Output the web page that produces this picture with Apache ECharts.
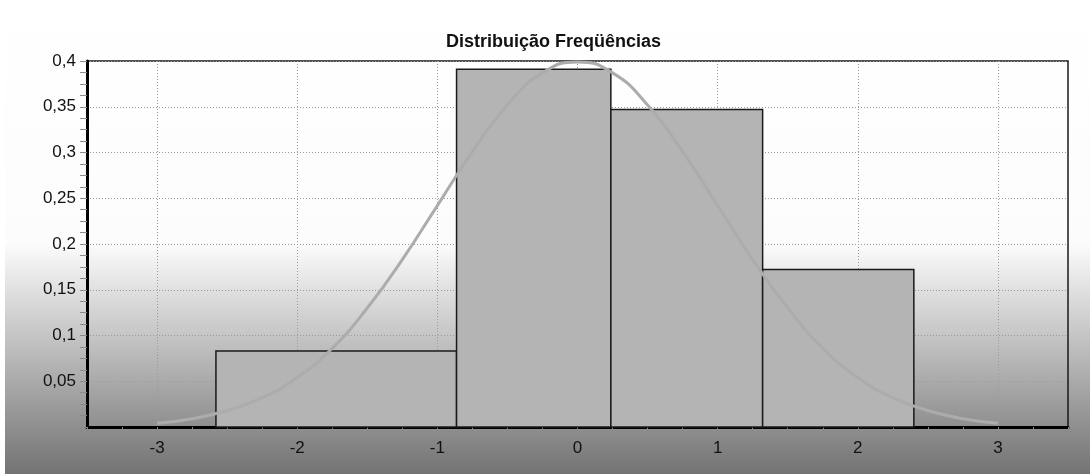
<!DOCTYPE html>
<html>
<head>
<meta charset="utf-8">
<script src="https://cdn.jsdelivr.net/npm/echarts@6/dist/echarts.min.js"></script>
<style>
  html, body { margin: 0; padding: 0; }
  #chart {
    width: 1090px; height: 474px;
    background:
      linear-gradient(to right, #ffffff 5px, rgba(255,255,255,0) 5px),
      linear-gradient(to bottom, #ffffff 0px, #fcfcfc 243px, #737373 474px);
  }
</style>
</head>
<body>
<div id="chart"></div>
<script>
// Histogram classes: lower bound, upper bound, relative frequency
const binStart = [-2.58, -0.863, 0.238, 1.321];
const binEnd   = [-0.863, 0.238, 1.321, 2.40];
const binFreq  = [0.0831, 0.391, 0.347, 0.172];

// Fitted normal curve, sampled every 0.25
const curveX = [-3, -2.75, -2.5, -2.25, -2, -1.75, -1.5, -1.25, -1, -0.75, -0.5, -0.25, 0,
                0.25, 0.5, 0.75, 1, 1.25, 1.5, 1.75, 2, 2.25, 2.5, 2.75, 3];
const curveY = [0.004, 0.009, 0.018, 0.032, 0.054, 0.086, 0.13, 0.183, 0.242, 0.301, 0.352, 0.387, 0.399,
                0.387, 0.352, 0.301, 0.242, 0.183, 0.13, 0.086, 0.054, 0.032, 0.018, 0.009, 0.004];

// Axis ticks
const xGridValues = [-3, -2, -1, 0, 1, 2, 3];

const FONT = 'Liberation Sans, Arial, sans-serif';
const chart = echarts.init(document.getElementById('chart'), null, { renderer: 'canvas' });

const bins = binStart.map((s, i) => [s, binEnd[i], binFreq[i]]);
const curve = curveX.map((x, i) => [x, curveY[i]]);

const tickStyle = { color: '#8a8a8a', width: 1 };
const gridStyle = { color: '#9a9a9a', type: [1, 2], width: 1 };

chart.setOption({
  animation: false,
  backgroundColor: 'transparent',
  title: {
    text: 'Distribuição Freqüências',
    left: 441, top: 28,
    textStyle: { fontFamily: FONT, fontSize: 18, fontWeight: 'bold', color: '#111' }
  },
  grid: {
    left: 87, right: 22, top: 61, bottom: 47,
    show: true, borderColor: '#1a1a1a', borderWidth: 1.5, backgroundColor: 'transparent'
  },
  xAxis: [
    {
      type: 'value', min: -3.5, max: 3.5, interval: 0.5,
      axisLine: { show: true, onZero: false, lineStyle: { color: '#000', width: 3 } },
      axisTick: { show: true, length: 5, lineStyle: tickStyle },
      minorTick: { show: true, splitNumber: 2, length: 5, lineStyle: tickStyle },
      splitLine: { show: false },
      axisLabel: {
        margin: 13, fontFamily: FONT, fontSize: 17, color: '#111',
        formatter: v => (Math.abs(v - Math.round(v)) < 1e-9 && Math.abs(v) < 3.4) ? String(Math.round(v)) : ''
      }
    },
    {
      type: 'value', min: -3.5, max: 3.5, position: 'bottom',
      axisLine: { show: false, onZero: false },
      axisTick: { show: false, customValues: xGridValues },
      axisLabel: { show: false, customValues: xGridValues },
      splitLine: { show: true, lineStyle: gridStyle }
    }
  ],
  yAxis: {
    type: 'value', min: 0, max: 0.4, interval: 0.05,
    axisLine: { show: true, onZero: false, lineStyle: { color: '#000', width: 3 } },
    axisTick: { show: true, length: 7, lineStyle: tickStyle },
    minorTick: { show: true, splitNumber: 4, length: 7, lineStyle: tickStyle },
    splitLine: { show: true, lineStyle: gridStyle },
    axisLabel: {
      margin: 11, fontFamily: FONT, fontSize: 17, color: '#111',
      formatter: v => v === 0 ? '' : String(Number(v.toFixed(3))).replace('.', ',')
    }
  },
  series: [
    {
      type: 'custom',
      xAxisIndex: 0,
      data: bins,
      encode: { x: [0, 1], y: 2 },
      renderItem: (params, api) => {
        const p0 = api.coord([api.value(0), api.value(2)]);
        const p1 = api.coord([api.value(1), 0]);
        return {
          type: 'rect',
          shape: { x: p0[0], y: p0[1], width: p1[0] - p0[0], height: p1[1] - p0[1] },
          style: { fill: '#b4b4b4', stroke: '#1a1a1a', lineWidth: 1.5 }
        };
      },
      z: 5
    },
    {
      type: 'line',
      xAxisIndex: 0,
      data: curve,
      smooth: true,
      showSymbol: false,
      lineStyle: { color: '#acacac', width: 3 },
      z: 6
    }
  ]
});
</script>
</body>
</html>
